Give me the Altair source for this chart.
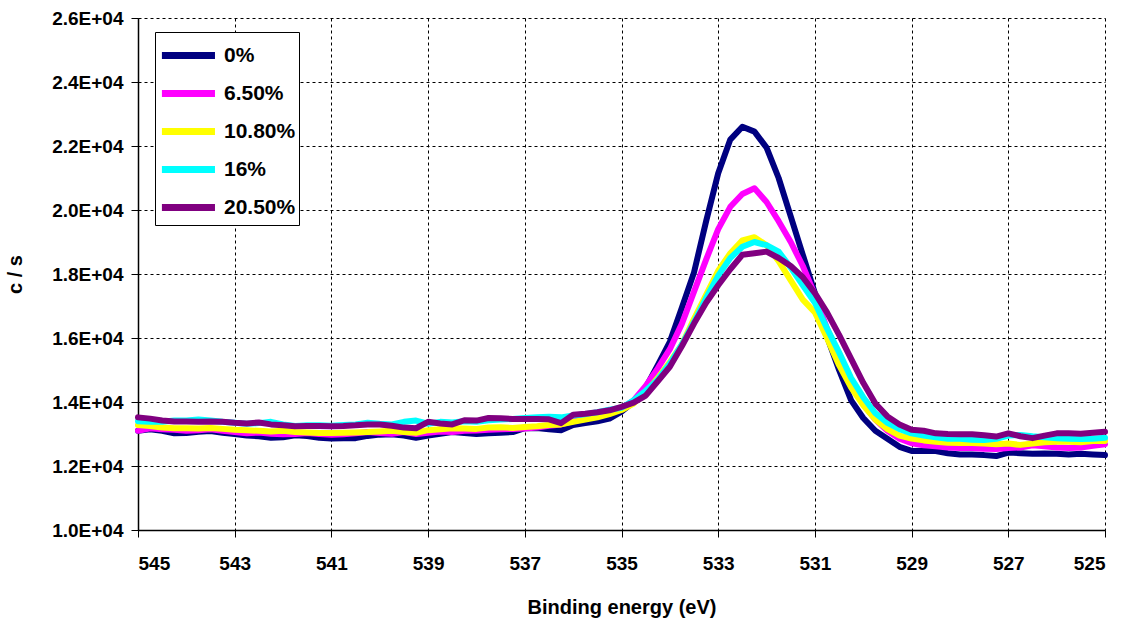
import altair as alt
import pandas as pd

energy = [545 - 0.25 * i for i in range(81)]

series_names = ["0%", "6.50%", "10.80%", "16%", "20.50%"]
series_colors = ["#000080", "#FF00FF", "#FFFF00", "#00FFFF", "#800080"]

s0 = [13100, 13150, 13100, 13020, 13030, 13070, 13090, 13040, 13000, 12950,
      12930, 12880, 12900, 12960, 12940, 12880, 12860, 12870, 12870, 12940,
      12980, 12990, 12950, 12880, 12950, 13010, 13060, 13030, 13000, 13020,
      13040, 13060, 13180, 13190, 13150, 13120, 13280, 13340, 13400, 13480,
      13700, 14000, 14450, 15150, 15880, 16950, 18050, 19650, 21150, 22200,
      22600, 22450, 21950, 21000, 19800, 18600, 17400, 16050, 15000, 14050,
      13500, 13100, 12850, 12600,
      12470, 12480, 12470, 12400, 12360, 12360, 12340, 12310, 12420, 12400,
      12380, 12390, 12380, 12360, 12380, 12360, 12340]

s65 = [13100, 13180, 13150, 13130, 13100, 13120, 13150, 13100, 13060, 13020,
       13050, 13010, 12990, 13000, 13030, 13000, 12980, 12990, 13020, 13060,
       13030, 13010, 13060, 13000, 13040, 13080, 13060, 13100, 13110, 13130,
       13150, 13160, 13170, 13200, 13260, 13300, 13400, 13480, 13560, 13650,
       13800, 14050, 14500, 15050, 15650, 16450, 17450, 18450, 19400, 20100,
       20500, 20680, 20250, 19650, 19000, 18250, 17350, 16300, 15400, 14550,
       13950, 13450, 13100, 12850,
       12710, 12650, 12620, 12580, 12560, 12560, 12540, 12530, 12560, 12580,
       12650, 12620, 12580, 12560, 12580, 12630, 12680]

s108 = [13280, 13250, 13200, 13180, 13180, 13170, 13190, 13160, 13130, 13120,
        13100, 13080, 13100, 13060, 13050, 13030, 13030, 13040, 13050, 13060,
        13080, 13100, 13060, 13040, 13120, 13150, 13180, 13170, 13160, 13200,
        13210, 13190, 13220, 13240, 13280, 13300, 13380, 13450, 13520, 13620,
        13750, 13950, 14300, 14750, 15250, 15800, 16600, 17350, 18100, 18650,
        19050, 19150, 18900, 18400, 17800, 17200, 16800, 16000, 15150, 14450,
        13900, 13450, 13150, 12950,
        12860, 12800, 12760, 12730, 12720, 12720, 12700, 12680, 12700, 12660,
        12700, 12740, 12760, 12760, 12740, 12780, 12780]

s16 = [13400, 13380, 13380, 13420, 13420, 13450, 13420, 13380, 13350, 13320,
       13340, 13380, 13300, 13250, 13270, 13270, 13260, 13280, 13300, 13350,
       13320, 13300, 13380, 13420, 13320, 13380, 13360, 13400, 13380, 13430,
       13450, 13470, 13500, 13520, 13540, 13520, 13580, 13620, 13680, 13760,
       13820, 14050, 14350, 14700, 15200, 15800, 16500, 17250, 17950, 18500,
       18850, 19000, 18900, 18700, 18200, 17650, 17100, 16300, 15550, 14750,
       14150, 13650, 13350, 13150,
       13020, 12950, 12900, 12850, 12850, 12820, 12810, 12850, 12950, 12970,
       12930, 12900, 12870, 12850, 12840, 12850, 12880]

s205 = [13520, 13480, 13420, 13390, 13390, 13380, 13390, 13380, 13350, 13330,
        13360, 13300, 13270, 13240, 13250, 13250, 13240, 13250, 13270, 13300,
        13300, 13260, 13200, 13180, 13380, 13330, 13300, 13430, 13420, 13500,
        13490, 13470, 13470, 13470, 13460, 13340, 13600, 13630, 13680, 13740,
        13850, 13980, 14200, 14650, 15100, 15750, 16450, 17100, 17650, 18150,
        18600, 18650, 18700, 18500, 18250, 17900, 17400, 16800, 16100, 15350,
        14600, 13950, 13550, 13300,
        13130, 13100, 13020, 13000, 12990, 12990, 12960, 12920, 13020, 12930,
        12870, 12950, 13020, 13020, 13010, 13040, 13070]

x_ticks = [545, 543, 541, 539, 537, 535, 533, 531, 529, 527, 525]
y_ticks = [10000, 12000, 14000, 16000, 18000, 20000, 22000, 24000, 26000]

all_series = [s0, s65, s108, s16, s205]
rows = []
for name, vals in zip(series_names, all_series):
    for e, v in zip(energy, vals):
        rows.append({"energy": e, "cps": v, "series": name})
df = pd.DataFrame(rows)

color_scale = alt.Scale(domain=series_names, range=series_colors)

x_enc = alt.X(
    "energy:Q",
    scale=alt.Scale(domain=[545, 525], nice=False, zero=False),
    axis=alt.Axis(values=x_ticks, format="d", title="Binding energy (eV)",
                  labelPadding=17, titlePadding=24),
)
y_enc = alt.Y(
    "cps:Q",
    scale=alt.Scale(domain=[10000, 26000], nice=False, zero=False),
    axis=alt.Axis(values=y_ticks,
                  labelExpr="format(datum.value / 10000, '.1f') + 'E+04'",
                  title="c / s", labelPadding=8, titlePadding=26),
)

layers = []
for name in series_names:
    layers.append(
        alt.Chart(df)
        .transform_filter(alt.datum.series == name)
        .mark_line(strokeWidth=6, strokeJoin="round", strokeCap="round")
        .encode(
            x=x_enc,
            y=y_enc,
            color=alt.Color(
                "series:N",
                scale=color_scale,
                legend=alt.Legend(
                    title=None,
                    orient="none",
                    legendX=17,
                    legendY=14,
                    fillColor="white",
                    strokeColor="black",
                    padding=3,
                    symbolType="M-1,0H2.2",
                    symbolStrokeWidth=7,
                    symbolSize=1100,
                    labelFontSize=21,
                    labelFontWeight="bold",
                    labelColor="black",
                    labelOffset=25,
                    labelExpr="datum.label + '\u2002\u2002\u2002'",
                    rowPadding=3,
                ),
            ),
        )
    )

chart = (
    alt.layer(*layers)
    .properties(
        width=967,
        height=512,
        autosize=alt.AutoSizeParams(type="none"),
        padding={"left": 138, "top": 18, "right": 26, "bottom": 92},
        background="white",
    )
    .configure(font="Liberation Sans")
    .configure_view(stroke=None)
    .configure_axis(
        grid=True,
        gridColor="black",
        gridDash=[3, 3],
        gridWidth=1,
        gridOpacity=1,
        domainColor="black",
        domainWidth=1.5,
        tickColor="black",
        tickSize=7,
        tickWidth=1,
        labelFont="Liberation Sans",
        labelFontSize=19,
        labelFontWeight="bold",
        labelColor="black",
        titleFont="Liberation Sans",
        titleFontSize=20,
        titleFontWeight="bold",
        titleColor="black",
    )
)

chart.save("out.html", embed_options={"renderer": "svg", "actions": False})
